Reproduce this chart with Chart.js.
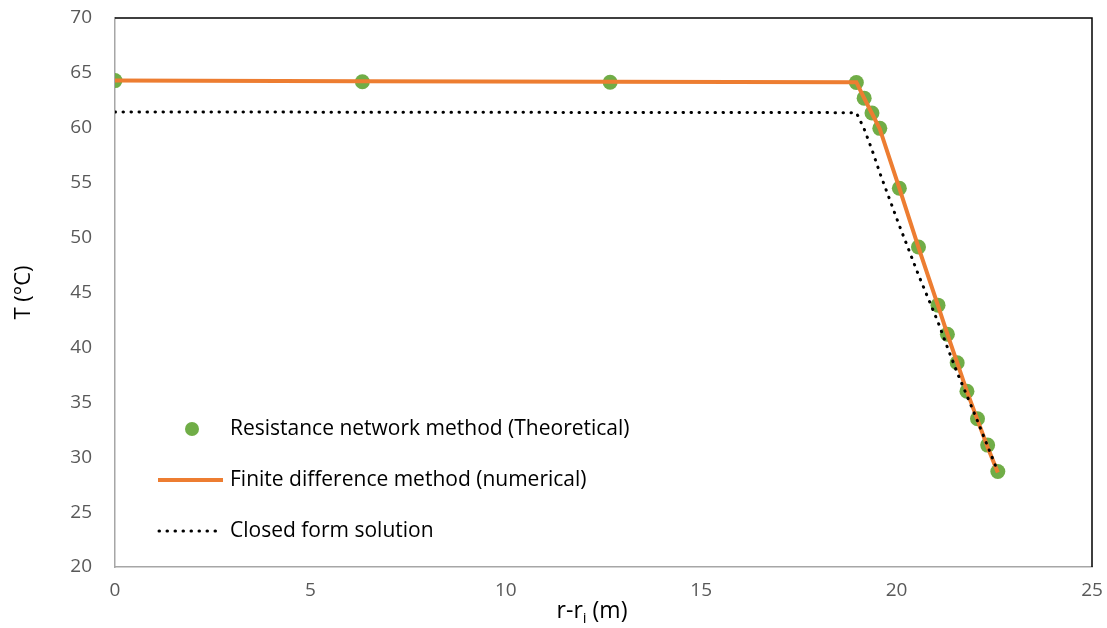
<!DOCTYPE html>
<html lang="en">
<head>
    <meta charset="UTF-8">
    <title>Temperature profile</title>
    <script src="https://cdn.jsdelivr.net/npm/chart.js"></script>
    <style>
        body { margin: 0; background: #fff; }
        #wrap { width: 1107px; height: 628px; }
    </style>
</head>
<body>
    <div id="wrap"><canvas id="myChart"></canvas></div>
    <script>
        // radial position r - ri (m)
        const radius = [0, 6.33, 12.67, 18.97, 19.17, 19.37, 19.57, 20.07, 20.56, 21.06, 21.30, 21.55, 21.80, 22.07, 22.33, 22.59];
        // temperatures (°C)
        const tResistance = [64.3, 64.2, 64.15, 64.13, 62.7, 61.35, 59.95, 54.5, 49.15, 43.85, 41.2, 38.6, 36.0, 33.5, 31.1, 28.7];
        const tFiniteDiff = [64.3, 64.25, 64.2, 64.15, 62.7, 61.3, 59.9, 54.5, 49.1, 43.8, 41.2, 38.6, 36.0, 33.4, 30.9, 28.6];
        const tClosedForm = [61.45, 61.42, 61.4, 61.38, 59.9, 58.0, 55.9, 51.1, 46.6, 42.3, 40.0, 37.7, 35.6, 33.3, 31.0, 28.7];
        const seriesNames = ['Resistance network method (Theoretical)', 'Finite difference method (numerical)', 'Closed form solution'];
        const xTicks = [0, 5, 10, 15, 20, 25];
        const yTicks = [20, 25, 30, 35, 40, 45, 50, 55, 60, 65, 70];

        const FONT = '"Open Sans", sans-serif';
        const toXY = (xs, ys) => xs.map((x, i) => ({ x: x, y: ys[i] }));

        // axis titles (x one has a subscript), frame and in-plot legend
        const decorations = {
            id: 'decorations',
            afterDraw(chart) {
                const c = chart.ctx, a = chart.chartArea;
                c.save();
                // black frame on top and right
                c.strokeStyle = '#000';
                c.lineWidth = 1.5;
                c.beginPath();
                c.moveTo(a.left, a.top);
                c.lineTo(a.right, a.top);
                c.lineTo(a.right, a.bottom);
                c.stroke();

                // y title
                c.fillStyle = '#000';
                c.font = '22px ' + FONT;
                c.textAlign = 'center';
                c.textBaseline = 'middle';
                c.translate(24, (a.top + a.bottom) / 2);
                c.rotate(-Math.PI / 2);
                c.fillText('T (°C)', 0, 0);
                c.setTransform(1, 0, 0, 1, 0, 0);

                // x title r-r_i (m)
                c.textBaseline = 'alphabetic';
                c.textAlign = 'left';
                const base = 618, big = '23px ' + FONT, small = '15px ' + FONT;
                c.font = big; const w1 = c.measureText('r-r').width;
                c.font = small; const w2 = c.measureText('i').width;
                c.font = big; const w3 = c.measureText(' (m)').width;
                let x = 592 - (w1 + w2 + w3) / 2;
                c.font = big; c.fillText('r-r', x, base); x += w1;
                c.font = small; c.fillText('i', x, base + 5); x += w2;
                c.font = big; c.fillText(' (m)', x, base);

                // legend
                c.font = '21px ' + FONT;
                c.textBaseline = 'middle';
                const rows = [429, 480, 531];
                rows.forEach((y, i) => c.fillText(seriesNames[i], 230, y));
                c.fillStyle = '#70AD47';
                c.beginPath(); c.arc(192, rows[0], 7, 0, Math.PI * 2); c.fill();
                c.strokeStyle = '#ED7D31'; c.lineWidth = 4;
                c.beginPath(); c.moveTo(158, rows[1]); c.lineTo(223, rows[1]); c.stroke();
                c.strokeStyle = '#000'; c.lineWidth = 3; c.lineCap = 'round';
                c.setLineDash([0.5, 7.5]);
                c.beginPath(); c.moveTo(159, rows[2]); c.lineTo(223, rows[2]); c.stroke();
                c.restore();
            }
        };

        new Chart(document.getElementById('myChart'), {
            type: 'scatter',
            data: {
                datasets: [{
                    label: seriesNames[2],
                    data: toXY(radius, tClosedForm),
                    showLine: true,
                    borderColor: '#000',
                    borderWidth: 3,
                    borderDash: [0.5, 7.5],
                    borderCapStyle: 'round',
                    pointRadius: 0,
                    order: 0
                }, {
                    label: seriesNames[1],
                    data: toXY(radius, tFiniteDiff),
                    showLine: true,
                    borderColor: '#ED7D31',
                    borderWidth: 4,
                    pointRadius: 0,
                    order: 1
                }, {
                    label: seriesNames[0],
                    data: toXY(radius, tResistance),
                    backgroundColor: '#70AD47',
                    borderWidth: 0,
                    pointRadius: 7.5,
                    order: 2
                }]
            },
            options: {
                responsive: true,
                maintainAspectRatio: false,
                animation: false,
                layout: { autoPadding: false, padding: { top: 18, right: 15, left: 0, bottom: 0 } },
                scales: {
                    x: {
                        type: 'linear',
                        min: 0, max: 25,
                        afterBuildTicks: s => { s.ticks = xTicks.map(v => ({ value: v })); },
                        afterFit: s => { s.height = 61; s.paddingLeft = 0; s.paddingRight = 0; },
                        grid: { display: false, drawTicks: false },
                        border: { color: '#A6A6A6', width: 1.5 },
                        ticks: { color: '#595959', font: { family: FONT, size: 19 }, padding: 12 }
                    },
                    y: {
                        min: 20, max: 70,
                        afterBuildTicks: s => { s.ticks = yTicks.map(v => ({ value: v })); },
                        afterFit: s => { s.width = 115; s.paddingTop = 0; s.paddingBottom = 0; },
                        grid: { display: false, drawTicks: false },
                        border: { color: '#A6A6A6', width: 1.5 },
                        ticks: { color: '#595959', font: { family: FONT, size: 19 }, padding: 23 }
                    }
                },
                plugins: {
                    legend: { display: false },
                    tooltip: { enabled: false }
                }
            },
            plugins: [decorations]
        });
    </script>
</body>
</html>
